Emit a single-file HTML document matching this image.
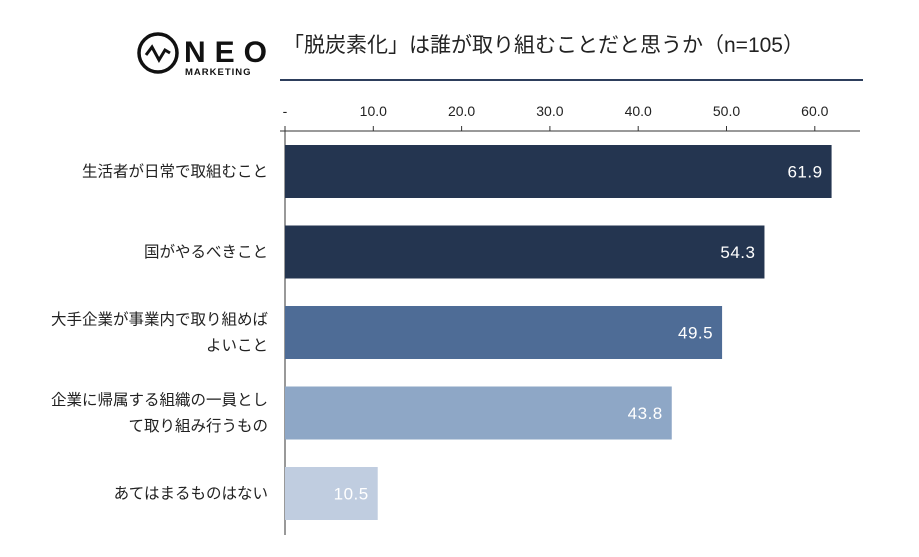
<!DOCTYPE html>
<html><head><meta charset="utf-8"><style>
body{margin:0;background:#fff;width:919px;height:552px;overflow:hidden;font-family:"Liberation Sans","Noto Sans CJK JP",sans-serif}
svg text{font-family:"Liberation Sans","Noto Sans CJK JP",sans-serif}
</style></head><body>
<svg id="c" width="919" height="552">
<g>
<circle cx="158" cy="53" r="19" fill="none" stroke="#111" stroke-width="3.5"/>
<polyline points="146,55 152,47 159,60 165,50 170,53" fill="none" stroke="#111" stroke-width="3"/>
<text x="184" y="62" font-size="30" font-weight="bold" fill="#111" letter-spacing="9">NEO</text>
<text x="185" y="75" font-size="9.5" font-weight="bold" fill="#111" letter-spacing="1">MARKETING</text>
</g>
<text x="283" y="52" font-size="21" fill="#222">「脱炭素化」は誰が取り組むことだと思うか（n=105）</text>
<line x1="280" y1="80" x2="863" y2="80" stroke="#2d3e5c" stroke-width="2"/>
<g id="ax"></g><g id="bars"></g>
</svg>
<script>
const categories=["生活者が日常で取組むこと","国がやるべきこと","大手企業が事業内で取り組めば|よいこと","企業に帰属する組織の一員とし|て取り組み行うもの","あてはまるものはない"];
const values=[61.9,54.3,49.5,43.8,10.5];
const colors=["#243550","#243550","#4e6c96","#8ea7c6","#c0cde0"];
const ticks=[0,10,20,30,40,50,60];
const tickLabels=["-","10.0","20.0","30.0","40.0","50.0","60.0"];
const NS="http://www.w3.org/2000/svg";
const x=v=>285+v*8.83;
const yTop=i=>145+i*80.5;
const bh=53;
function mk(t,a,p){const e=document.createElementNS(NS,t);for(const k in a)e.setAttribute(k,a[k]);p.appendChild(e);return e;}
const ax=document.getElementById('ax'),bars=document.getElementById('bars');
const al=mk('line',{x1:280,y1:131,x2:860,y2:131,stroke:'#333','stroke-width':1},ax);


const vl=mk('line',{x1:285,y1:126,x2:285,y2:535,stroke:'#333','stroke-width':1},ax);


ticks.forEach((t,i)=>{
 const tk=mk('line',{x1:x(t),y1:126,x2:x(t),y2:131,stroke:'#333'},ax);
 
 
 const tl=mk('text',{x:x(t),y:116,'font-size':14,fill:'#222','text-anchor':'middle'},ax);
 tl.textContent=tickLabels[i];
 
 
});
values.forEach((v,i)=>{
 const r=mk('rect',{x:x(0),y:yTop(i),width:x(v)-x(0),height:bh,fill:colors[i]},bars);
 
 
 const vt=mk('text',{x:x(v)-9,y:yTop(i)+bh/2+6,'font-size':17,fill:'#fff','text-anchor':'end','letter-spacing':'0.5'},bars);
 vt.textContent=v.toFixed(1);
 
 
 const lines=categories[i].split('|');
 const cy=yTop(i)+bh/2+5;
 lines.forEach((s,j)=>{
  const ct=mk('text',{x:268,y:cy+(j-(lines.length-1)/2)*26,'font-size':15.5,fill:'#222','text-anchor':'end'},bars);
  ct.textContent=s;
  
  
 });
});
</script>
</body></html>
